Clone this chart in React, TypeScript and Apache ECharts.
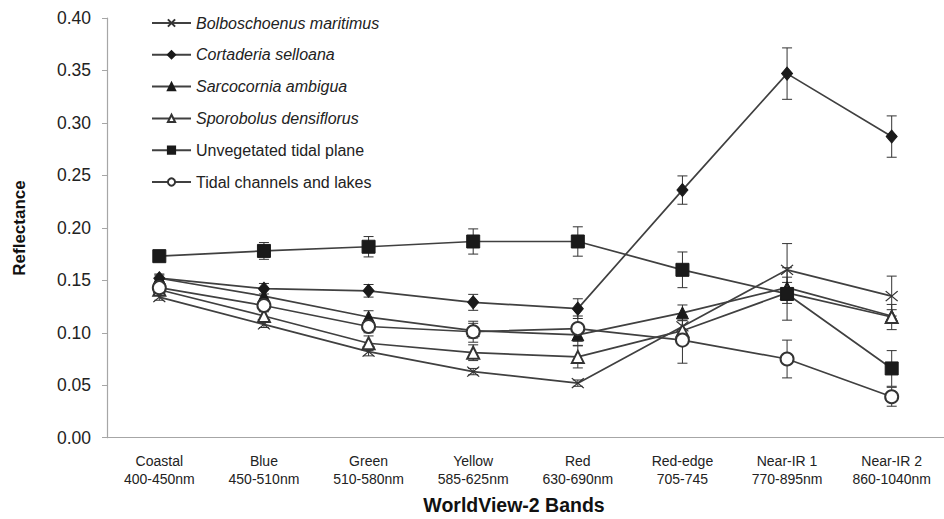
import React, { useEffect, useRef } from "react";
import * as echarts from "echarts";

const categories = [
  "Coastal\n400-450nm",
  "Blue\n450-510nm",
  "Green\n510-580nm",
  "Yellow\n585-625nm",
  "Red\n630-690nm",
  "Red-edge\n705-745",
  "Near-IR 1\n770-895nm",
  "Near-IR 2\n860-1040nm",
];

const bolboschoenus = [0.134, 0.108, 0.082, 0.063, 0.052, 0.106, 0.160, 0.135];
const bolboschoenusErr = [0.003, 0.003, 0.004, 0.003, 0.003, 0.010, 0.025, 0.019];
const cortaderia = [0.152, 0.142, 0.140, 0.129, 0.123, 0.236, 0.347, 0.287];
const cortaderiaErr = [0.003, 0.005, 0.006, 0.0076, 0.0094, 0.0135, 0.0245, 0.0197];
const sarcocornia = [0.152, 0.135, 0.115, 0.102, 0.098, 0.119, 0.143, 0.116];
const sarcocorniaErr = [0.004, 0.006, 0.006, 0.007, 0.010, 0.0075, 0.010, 0.006];
const sporobolus = [0.141, 0.116, 0.090, 0.081, 0.077, 0.102, 0.138, 0.115];
const sporobolusErr = [0.003, 0.005, 0.007, 0.0075, 0.0105, 0.010, 0.010, 0.012];
const unvegetated = [0.173, 0.178, 0.182, 0.187, 0.187, 0.160, 0.137, 0.066];
const unvegetatedErr = [0.003, 0.008, 0.0097, 0.012, 0.014, 0.017, 0.025, 0.017];
const tidal = [0.143, 0.126, 0.106, 0.101, 0.104, 0.093, 0.075, 0.039];
const tidalErr = [0.004, 0.006, 0.006, 0.010, 0.012, 0.022, 0.018, 0.009];

const yTicks = { min: 0, max: 0.4, interval: 0.05 };

const names = [
  "Bolboschoenus maritimus",
  "Cortaderia selloana",
  "Sarcocornia ambigua",
  "Sporobolus densiflorus",
  "Unvegetated tidal plane",
  "Tidal channels and lakes",
];
const italicNames = names.slice(0, 4);

const FONT = "'Liberation Sans', Arial, sans-serif";
const LINE = "#404040";
const MARK = "#1a1a1a";

function errSeries(vals: number[], errs: number[]) {
  return {
    type: "custom",
    silent: true,
    z: 1,
    encode: { x: 0, y: [1, 2] },
    data: vals.map((v, i) => [i, v - errs[i], v + errs[i]]),
    renderItem: (params: any, api: any) => {
      const x = api.value(0);
      const lo = api.coord([x, api.value(1)]);
      const hi = api.coord([x, api.value(2)]);
      const w = 5;
      const style = { stroke: "#333", lineWidth: 1 };
      return {
        type: "group",
        children: [
          { type: "line", shape: { x1: lo[0], y1: lo[1], x2: hi[0], y2: hi[1] }, style },
          { type: "line", shape: { x1: lo[0] - w, y1: lo[1], x2: lo[0] + w, y2: lo[1] }, style },
          { type: "line", shape: { x1: hi[0] - w, y1: hi[1], x2: hi[0] + w, y2: hi[1] }, style },
        ],
      };
    },
  };
}

function lineSeries(name: string, data: number[], symbol: string, extra: any = {}) {
  return {
    type: "line",
    name,
    data,
    symbol,
    symbolSize: 12,
    z: 3,
    lineStyle: { color: LINE, width: 1.7 },
    itemStyle: { color: MARK, borderColor: MARK, borderWidth: 1 },
    ...extra,
  };
}

export default function App() {
  const ref = useRef<HTMLDivElement>(null);
  useEffect(() => {
    if (!ref.current) return;
    const chart = echarts.init(ref.current, null, { renderer: "svg" });
    chart.setOption({
      animation: false,
      backgroundColor: "#ffffff",
      textStyle: { fontFamily: FONT },
      grid: { left: 107, top: 18, width: 844, height: 419.7 },
      legend: {
        data: names,
        orient: "vertical",
        left: 146,
        top: 10,
        itemWidth: 39,
        itemHeight: 9,
        itemGap: 15.8,
        formatter: (n: string) => (italicNames.includes(n) ? `{i|${n}}` : `{n|${n}}`),
        textStyle: {
          fontFamily: FONT,
          rich: {
            i: { fontStyle: "italic", fontSize: 16, lineHeight: 18, color: "#222", fontFamily: FONT },
            n: { fontSize: 16, lineHeight: 18, color: "#222", fontFamily: FONT },
          },
        },
      },
      xAxis: {
        type: "category",
        data: categories,
        axisLine: { lineStyle: { color: "#a6a6a6", width: 1.2 } },
        axisTick: { length: 5, lineStyle: { color: "#a6a6a6" } },
        axisLabel: { color: "#222", fontSize: 14, lineHeight: 18, margin: 14, fontFamily: FONT },
      },
      yAxis: {
        type: "value",
        min: yTicks.min,
        max: yTicks.max,
        interval: yTicks.interval,
        splitLine: { show: false },
        axisLine: { show: true, lineStyle: { color: "#a6a6a6", width: 1.2 } },
        axisTick: { show: true, length: 5, lineStyle: { color: "#a6a6a6" } },
        axisLabel: {
          color: "#222",
          fontSize: 17.5,
          margin: 16,
          fontFamily: FONT,
          formatter: (v: number) => v.toFixed(2),
        },
      },
      graphic: [
        {
          type: "text",
          x: 514,
          y: 505,
          style: {
            text: "WorldView-2 Bands",
            fontSize: 19.5,
            fontWeight: "bold",
            fontFamily: FONT,
            fill: "#111",
            align: "center",
            verticalAlign: "middle",
          },
        },
        {
          type: "text",
          x: 19,
          y: 228,
          rotation: Math.PI / 2,
          style: {
            text: "Reflectance",
            fontSize: 17,
            fontWeight: "bold",
            fontFamily: FONT,
            fill: "#111",
            align: "center",
            verticalAlign: "middle",
          },
        },
      ],
      series: [
        errSeries(bolboschoenus, bolboschoenusErr),
        errSeries(cortaderia, cortaderiaErr),
        errSeries(sarcocornia, sarcocorniaErr),
        errSeries(sporobolus, sporobolusErr),
        errSeries(unvegetated, unvegetatedErr),
        errSeries(tidal, tidalErr),
        lineSeries(names[0], bolboschoenus, "path://M0,0L12,10M12,0L0,10", {
          symbolSize: [12, 10],
          itemStyle: { color: "none", borderColor: "#333", borderWidth: 1.2 },
        }),
        lineSeries(names[1], cortaderia, "diamond", { symbolSize: [11, 13] }),
        lineSeries(names[2], sarcocornia, "triangle"),
        lineSeries(names[3], sporobolus, "emptyTriangle", {
          itemStyle: { color: "#333", borderColor: "#333", borderWidth: 1.2 },
        }),
        lineSeries(names[4], unvegetated, "rect", { symbolSize: 13 }),
        lineSeries(names[5], tidal, "emptyCircle", {
          symbolSize: 13,
          itemStyle: { color: "#333", borderColor: "#333", borderWidth: 1.2 },
        }),
      ],
    });
    return () => chart.dispose();
  }, []);
  return (
    <div
      ref={ref}
      style={{ position: "fixed", left: 0, top: 0, width: 944, height: 519, background: "#fff" }}
    />
  );
}
